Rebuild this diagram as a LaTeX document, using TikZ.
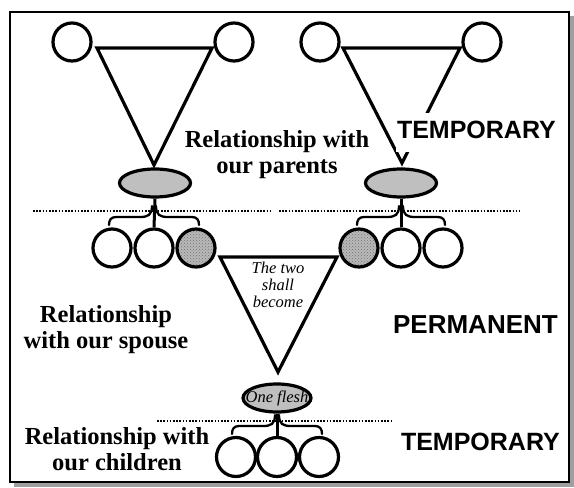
\documentclass[tikz,border=0pt]{standalone}
\usepackage{fontspec}
\setmainfont{Liberation Serif}
\setsansfont{Liberation Sans}
\usetikzlibrary{patterns,shapes.geometric}
\begin{document}
\begin{tikzpicture}[x=1pt,y=-1pt,
  person/.style={circle,draw,line width=3.2pt,minimum size=38pt,inner sep=0pt,fill=white},
  spouse/.style={circle,draw,line width=3.2pt,minimum size=38pt,inner sep=0pt,
     preaction={fill=gray!55},pattern=crosshatch dots,pattern color=gray!90!black},
  couple/.style={ellipse,draw,line width=3.2pt,fill=gray!50,minimum width=71pt,minimum height=28pt,inner sep=0pt},
  tri/.style={draw,line width=3.2pt,line join=miter,fill=white},
  stem/.style={line width=3pt},
  brace/.style={line width=2.3pt,line cap=round},
  sep/.style={line width=2.4pt,dash pattern=on 1.6pt off 1.6pt},
  rel/.style={font=\fontsize{24.5}{25.5}\selectfont\bfseries,align=center,inner sep=0pt},
  state/.style={font=\fontsize{25}{26}\selectfont\sffamily\bfseries,inner sep=0pt},
  note/.style={font=\fontsize{16.5}{17}\selectfont\itshape,align=center,inner sep=0pt}
]
\useasboundingbox (0,0) rectangle (574,488);
\fill[white] (0,0) rectangle (574,488);
% frame with shadow
\fill[gray!75] (14,16) rectangle (573.5,486.5);
\draw[line width=2.8pt,fill=white] (10,12) rectangle (569,482);

% separators
\draw[sep] (33,211) -- (272,211);
\draw[sep] (279,211) -- (520,211);
\draw[sep] (157,421) -- (393,421);

% top left family
\draw[tri] (97,48) -- (212,48) -- (154,165) -- cycle;
\node[person] (gl1) at (72,42) {};
\node[person] (gl2) at (234,42) {};
\node[couple] (pl) at (155,183) {};
% top right family
\draw[tri] (343,48) -- (460,48) -- (402,163) -- cycle;
\node[person] (gr1) at (320,42) {};
\node[person] (gr2) at (482,42) {};
\node[couple] (pr) at (401,183) {};

% middle triangle
\draw[tri] (220,257) -- (337,257) -- (278,372) -- cycle;
\node[note] (two) at (278,307) [anchor=base] {The two\\shall\\become};

% sibling rows
\node[person] (sl1) at (112,248) {};
\node[person] (sl2) at (154,248) {};
\node[spouse] (sl3) at (196,248) {};
\node[spouse] (sr1) at (359,248) {};
\node[person] (sr2) at (401,248) {};
\node[person] (sr3) at (443,248) {};

% one flesh
\node[couple,minimum width=68pt,minimum height=28pt,
  label={[note]center:One flesh}] (one) at (277,398) {};

% children
\node[person,minimum size=39pt] (c1) at (236,457) {};
\node[person,minimum size=39pt] (c2) at (277,457) {};
\node[person,minimum size=39pt] (c3) at (319,457) {};

% stems
\draw[stem] (pl.south) -- (sl2.north);
\draw[stem] (pr.south) -- (sr2.north);
\draw[stem] (one.south) -- (c2.north);

% braces
\newcommand{\famBrace}[3]{%
  \draw[brace] (#1-2,#2) .. controls (#1-2,#2+9) and (#1-6,#2+11) .. (#1-14,#2+11)
     -- (#1-#3+7,#2+11) .. controls (#1-#3+2,#2+11) and (#1-#3,#2+14) .. (#1-#3,#2+19);
  \draw[brace] (#1+2,#2) .. controls (#1+2,#2+9) and (#1+6,#2+11) .. (#1+14,#2+11)
     -- (#1+#3-7,#2+11) .. controls (#1+#3-2,#2+11) and (#1+#3,#2+14) .. (#1+#3,#2+19);}
\famBrace{154}{206}{45}
\famBrace{401}{206}{44}
\famBrace{277}{415}{45}

% labels
\node[rel] (lp) at (277,173) [anchor=base] {Relationship with\\our parents};
\node[rel] (ls) at (106,348) [anchor=base] {Relationship\\with our spouse};
\node[rel] (lc) at (117,470) [anchor=base] {Relationship with\\our children};
\node[state,fill=white,inner xsep=1pt,inner ysep=8pt,text depth=6pt] (t1) at (557,138) [anchor=base east] {TEMPORARY};
\node[state,font=\fontsize{26}{27}\selectfont\sffamily\bfseries] (pm) at (558,333) [anchor=base east] {PERMANENT};
\node[state] (t2) at (560,450) [anchor=base east] {TEMPORARY};
\end{tikzpicture}
\end{document}
